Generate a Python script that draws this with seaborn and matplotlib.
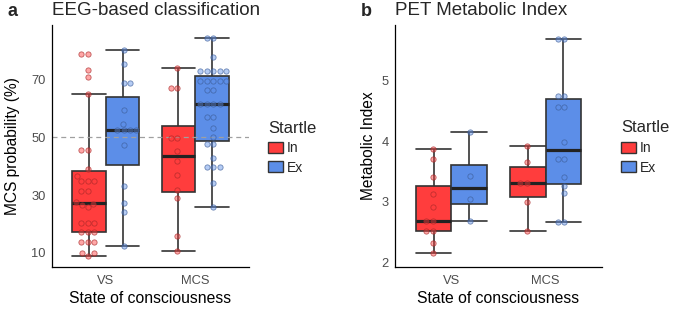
import matplotlib
matplotlib.use("Agg")
import matplotlib.pyplot as plt
from matplotlib.patches import Patch
import pandas as pd
import seaborn as sns

states = ["VS", "MCS"]
startle = ["In", "Ex"]

# panel a: EEG-based MCS probability (%)
eeg_vs_in = [9.0, 9.9, 9.9, 13.9, 13.9, 13.9, 17.4, 17.4, 17.4, 20.5, 20.5, 20.5,
             26.0, 26.5, 27.0, 27.5, 31.5, 31.5, 35.0, 35.0, 35.0, 36.5, 39.2,
             45.7, 45.7, 65.0, 71.0, 73.5, 79.0, 79.0]
eeg_vs_ex = [12.4, 24.2, 27.3, 33.3, 47.3, 52.6, 52.6, 52.6, 52.6, 54.7, 59.5,
             68.8, 68.8, 75.5, 80.3]
eeg_mcs_in = [10.8, 16.0, 29.1, 31.8, 37.0, 41.9, 45.4, 49.7, 49.7, 67.0, 67.0, 74.0]
eeg_mcs_ex = [26.0, 34.1, 39.7, 39.7, 39.7, 42.8, 47.7, 47.7, 50.1, 53.2, 57.0, 57.0,
              61.6, 61.6, 61.6, 61.6, 66.5, 66.5, 69.7, 69.7, 69.7, 69.7, 69.7,
              73.2, 73.2, 73.2, 73.2, 73.2, 78.0, 84.4, 84.4]

# panel b: PET metabolic index
pet_vs_in = [2.15, 2.32, 2.52, 2.52, 2.68, 2.68, 2.91, 3.13, 3.41, 3.71, 3.87]
pet_vs_ex = [2.68, 3.05, 3.42, 4.16]
pet_mcs_in = [2.52, 3.00, 3.31, 3.31, 3.66, 3.93]
pet_mcs_ex = [2.66, 2.66, 3.14, 3.26, 3.41, 3.71, 3.71, 3.99, 4.56, 4.56, 4.74, 4.74,
              5.69, 5.69]

box_colors = {"In": "#FF3D3D", "Ex": "#5C8EE8"}


def make_df(groups, col):
    rows = []
    for (state, st), vals in groups.items():
        for v in vals:
            rows.append({"State": state, "Startle": st, col: v})
    return pd.DataFrame(rows)


eeg = make_df({("VS", "In"): eeg_vs_in, ("VS", "Ex"): eeg_vs_ex,
               ("MCS", "In"): eeg_mcs_in, ("MCS", "Ex"): eeg_mcs_ex}, "prob")
pet = make_df({("VS", "In"): pet_vs_in, ("VS", "Ex"): pet_vs_ex,
               ("MCS", "In"): pet_mcs_in, ("MCS", "Ex"): pet_mcs_ex}, "pet")

sns.set_style("white")
plt.rcParams["font.family"] = ["Liberation Sans", "DejaVu Sans"]

fig = plt.figure(figsize=(6.85, 3.12), dpi=100)
ax1 = fig.add_axes([52 / 685, 45 / 312, 197 / 685, 242 / 312])
ax2 = fig.add_axes([395 / 685, 45.3 / 312, 207 / 685, 241.7 / 312])


def panel(ax, df, col, ylim, yticks, ylabel, title, letter, letter_x, ylab_x, leg_x):
    sns.boxplot(data=df, x="State", y=col, hue="Startle", order=states,
                hue_order=startle, palette=box_colors, width=0.75, gap=0,
                dodge=True, showfliers=False, saturation=1,
                linecolor="#333333", linewidth=1.2,
                medianprops={"color": "#222222", "linewidth": 2.3},
                capwidths=0.375, legend=False, ax=ax)
    n_before = len(ax.collections)
    sns.swarmplot(data=df, x="State", y=col, hue="Startle", order=states,
                  hue_order=startle, palette=box_colors, dodge=True, size=3.8,
                  linewidth=0.6, legend=False, ax=ax)
    # translucent dots with a darker rim of the same hue
    for c in ax.collections[n_before:]:
        fc = c.get_facecolors()
        if len(fc) == 0:
            continue
        r, g, b, _ = fc[0]
        c.set_facecolor((r, g, b, 0.45))
        c.set_edgecolor((r * 0.65, g * 0.65, b * 0.65, 0.7))
        c.set_zorder(3)

    ax.set_xlim(-0.6, 1.6)
    ax.set_ylim(*ylim)
    ax.set_yticks(yticks)
    ax.set_xlabel("State of consciousness", fontsize=11.3, color="black")
    ax.set_ylabel(ylabel, fontsize=11.2, color="black")
    ax.xaxis.set_label_coords(0.5, -0.1)
    ax.yaxis.set_label_coords(ylab_x, 0.5)
    ax.tick_params(axis="both", length=2.5, width=0.8, color="#333333",
                   labelcolor="#4D4D4D", labelsize=9.3, pad=2)
    ax.tick_params(axis="x", pad=3.5)
    for s in ["top", "right"]:
        ax.spines[s].set_visible(False)
    for s in ["left", "bottom"]:
        ax.spines[s].set_color("black")
        ax.spines[s].set_linewidth(0.9)
    ax.set_title(title, loc="left", fontsize=13.5, pad=7)
    fig.text(letter_x / 685, (312 - 16) / 312, letter, fontsize=13,
             fontweight="bold", va="baseline")

    handles = [Patch(facecolor=box_colors[s], edgecolor="#333333", linewidth=1.0)
               for s in startle]
    leg = ax.legend(handles, startle, title="Startle", frameon=False,
                    loc="upper left", bbox_to_anchor=(leg_x, 0.605),
                    fontsize=10, title_fontsize=12, handlelength=1.1,
                    handleheight=0.85, handletextpad=0.25, labelspacing=0.4,
                    borderpad=0, borderaxespad=0)
    leg._legend_box.align = "left"


panel(ax1, eeg, "prob", (5.1, 89.0), [10, 30, 50, 70], "MCS probability (%)",
      "EEG-based classification", "a", 8, -0.16, 1.096)
ax1.axhline(50, color="#A0A0A0", linestyle=(0, (4, 3)), linewidth=0.9, zorder=2.5)

panel(ax2, pet, "pet", (1.93, 5.92), [2, 3, 4, 5], "Metabolic Index",
      "PET Metabolic Index", "b", 361, -0.094, 1.092)

fig.savefig("out.png", dpi=100)
